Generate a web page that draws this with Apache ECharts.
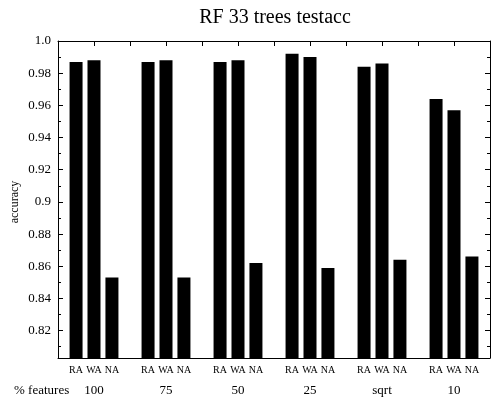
<!DOCTYPE html>
<html>
<head>
<meta charset="utf-8">
<script src="https://cdn.jsdelivr.net/npm/echarts@6/dist/echarts.min.js"></script>
<style>
  html, body { margin: 0; padding: 0; background: #fff; }
  #chart { width: 491px; height: 399px; }
</style>
</head>
<body>
<div id="chart"></div>
<script>
const groups = ['100', '75', '50', '25', 'sqrt', '10']
const topSlots = ['', '', '', '', '', '', '', '', '', '', '', '']
const raValues = [0.987, 0.987, 0.987, 0.992, 0.984, 0.964]
const waValues = [0.988, 0.988, 0.988, 0.990, 0.986, 0.957]
const naValues = [0.853, 0.853, 0.862, 0.859, 0.864, 0.866]

const font = '"Liberation Serif", "DejaVu Serif", serif'
const chart = echarts.init(document.getElementById('chart'))

const yMin = 0.803
const yMax = 1.0

function yAxisDef(position, showLabel) {
  return {
    type: 'value',
    position: position,
    min: yMin,
    max: yMax,
    splitNumber: 10,
    splitLine: { show: false },
    axisLine: { show: true, onZero: false, lineStyle: { color: '#000', width: 1 } },
    axisTick: { show: true, inside: true, length: 5, lineStyle: { color: '#000' } },
    minorTick: { show: true, splitNumber: 2, length: 3, lineStyle: { color: '#000' } },
    axisLabel: {
      show: showLabel,
      showMinLabel: false,
      color: '#000',
      fontFamily: font,
      fontSize: 13,
      margin: 7,
      formatter: v => (Math.abs(v - 1) < 1e-9 ? '1.0' : String(+v.toFixed(2)))
    }
  }
}

function barSeries(name, data) {
  return {
    name: name,
    type: 'bar',
    data: data,
    barWidth: 13,
    barGap: '38%',
    itemStyle: { color: '#000' },
    label: {
      show: true,
      position: 'bottom',
      distance: 7,
      formatter: name,
      color: '#000',
      fontFamily: font,
      fontSize: 10
    }
  }
}

const option = {
  animation: false,
  backgroundColor: '#fff',
  title: [
    {
      text: 'RF 33 trees testacc',
      left: 275,
      top: 8,
      padding: 0,
      textAlign: 'center',
      textStyle: { fontFamily: font, fontSize: 20, fontWeight: 'normal', color: '#000' }
    },
    {
      text: '% features',
      left: 14,
      top: 384,
      padding: 0,
      textStyle: { fontFamily: font, fontSize: 13, fontWeight: 'normal', color: '#000' }
    }
  ],
  grid: { left: 58, right: 1, top: 41, bottom: 41 },
  xAxis: [
    {
      type: 'category',
      data: groups,
      position: 'bottom',
      axisLine: { onZero: false, lineStyle: { color: '#000' } },
      axisTick: { inside: true, length: 4, lineStyle: { color: '#000' } },
      axisLabel: { color: '#000', fontFamily: font, fontSize: 13, margin: 26 }
    },
    {
      type: 'category',
      data: topSlots,
      position: 'top',
      axisLine: { show: true, onZero: false, lineStyle: { color: '#000' } },
      axisTick: { show: true, inside: true, length: 5, interval: 0, lineStyle: { color: '#000' } },
      axisLabel: { show: false }
    }
  ],
  yAxis: [
    yAxisDef('left', true),
    yAxisDef('right', false)
  ],
  graphic: [
    {
      type: 'text',
      x: 15,
      y: 202,
      rotation: Math.PI / 2,
      style: {
        text: 'accuracy',
        fontFamily: font,
        fontSize: 12,
        fill: '#000',
        align: 'center',
        verticalAlign: 'middle'
      }
    }
  ],
  series: [
    barSeries('RA', raValues),
    barSeries('WA', waValues),
    barSeries('NA', naValues)
  ]
}

chart.setOption(option)
</script>
</body>
</html>
